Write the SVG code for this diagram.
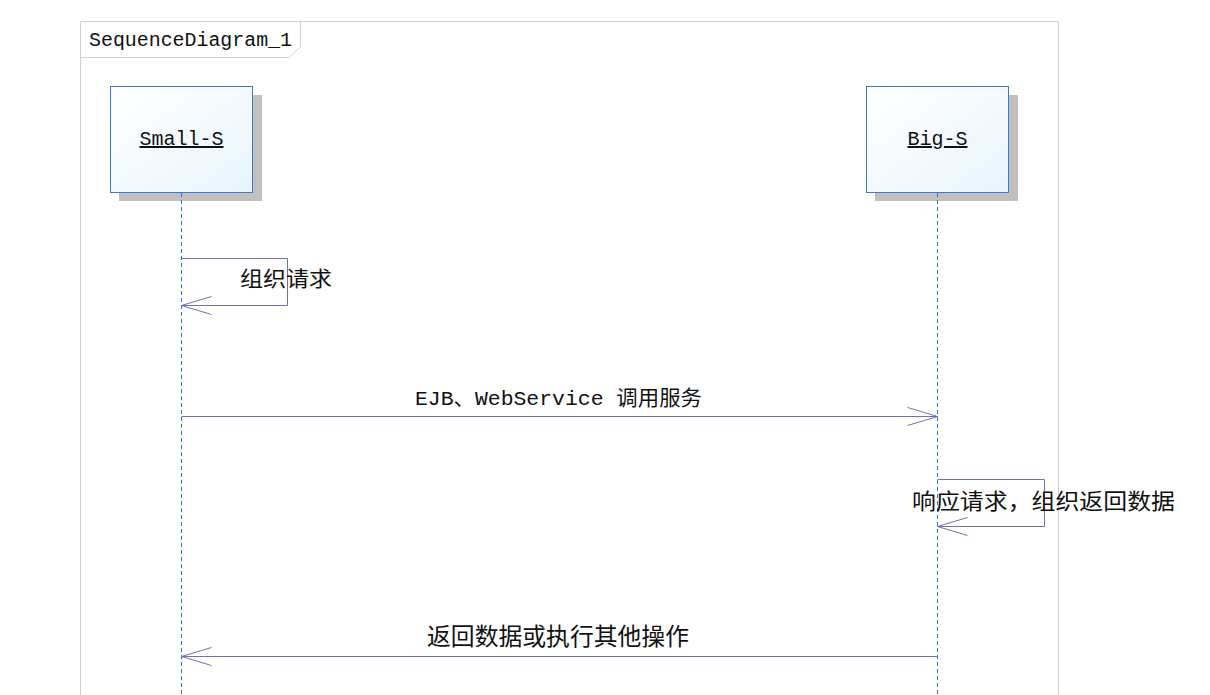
<svg xmlns="http://www.w3.org/2000/svg" width="1210" height="695" viewBox="0 0 1210 695">
<style>
.frame{fill:none;stroke:#d0d0d0;stroke-width:1}
.box{fill:url(#g);stroke:#3a7ad0;stroke-width:1}
.shadow{fill:#c0c0c0}
.life{stroke:#1f7ae8;stroke-width:1;stroke-dasharray:4,3;fill:none}
.msg{stroke:#7070b8;stroke-width:1;fill:none}
.t{font-family:"Liberation Mono","Noto Sans CJK SC",monospace;fill:#111}
</style>
<defs>
<linearGradient id="g" x1="0" y1="0" x2="1" y2="1">
<stop offset="0" stop-color="#ffffff"/>
<stop offset="1" stop-color="#e8f5fd"/>
</linearGradient>
</defs>
<rect width="1210" height="695" fill="#ffffff"/>
<g id="frame">
<path class="frame" d="M80.5,700 V21.5 H1058.5 V700"/>
<path class="frame" d="M80.5,57.5 H289.5 L300.5,46.5 V21.5"/>
<text class="t" x="89" y="46" font-size="20" textLength="203" lengthAdjust="spacingAndGlyphs">SequenceDiagram_1</text>
</g>
<g id="small-s">
<rect class="shadow" x="119" y="95" width="143" height="106"/>
<rect class="box" x="110.5" y="86.5" width="142" height="106"/>
<text class="t" x="181.5" y="145" font-size="20" text-anchor="middle" text-decoration="underline">Small-S</text>
</g>
<g id="big-s">
<rect class="shadow" x="875" y="95" width="143" height="106"/>
<rect class="box" x="866.5" y="86.5" width="142" height="106"/>
<text class="t" x="937.5" y="145" font-size="20" text-anchor="middle" text-decoration="underline">Big-S</text>
</g>
<g id="connectors">
<line class="life" x1="181.5" y1="193" x2="181.5" y2="695"/>
<line class="life" x1="937.5" y1="193" x2="937.5" y2="695"/>
<path class="msg" d="M181.5,258.5 H287.5 V305.5 H181.5"/>
<path class="msg" d="M211.5,296.5 L181.5,305.5 L211.5,314.5"/>
<path class="msg" d="M181.5,416.5 H937.5"/>
<path class="msg" d="M907.5,407.5 L937.5,416.5 L907.5,425.5"/>
<path class="msg" d="M937.5,479.5 H1044.5 V526.5 H937.5"/>
<path class="msg" d="M967.5,517.5 L937.5,526.5 L967.5,535.5"/>
<path class="msg" d="M937.5,656.5 H181.5"/>
<path class="msg" d="M211.5,647.5 L181.5,656.5 L211.5,665.5"/>
</g>
<g id="labels">
<text class="t" x="240" y="286" font-size="21" textLength="92" lengthAdjust="spacingAndGlyphs">组织请求</text>
<text class="t" x="415" y="405" font-size="21" textLength="287" lengthAdjust="spacingAndGlyphs">EJB、WebService 调用服务</text>
<text class="t" x="912" y="509" font-size="22" textLength="263" lengthAdjust="spacingAndGlyphs">响应请求，组织返回数据</text>
<text class="t" x="427" y="645" font-size="24" textLength="262" lengthAdjust="spacingAndGlyphs">返回数据或执行其他操作</text>
</g>
</svg>
